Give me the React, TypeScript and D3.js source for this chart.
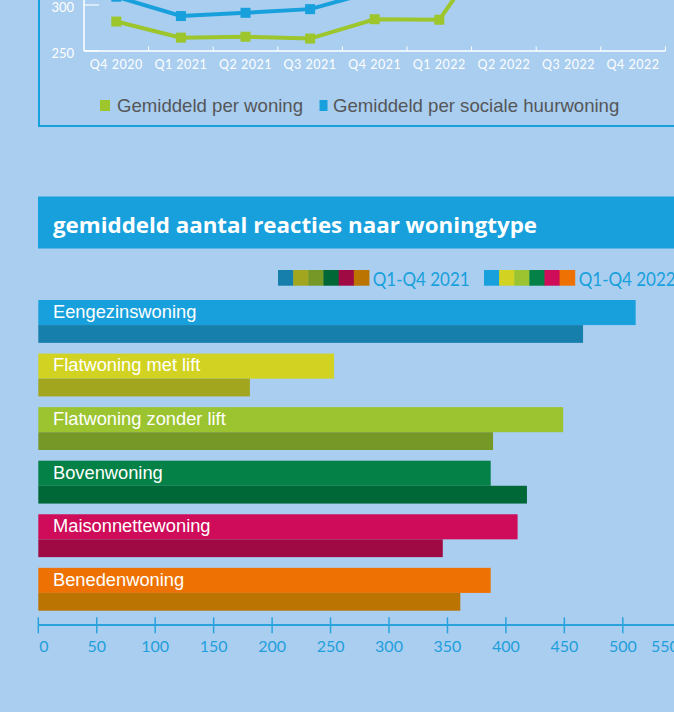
import React from "react";
import * as d3 from "d3";

// ---- Line chart data (top, partly cropped) ----
const quarters = ["Q4 2020", "Q1 2021", "Q2 2021", "Q3 2021", "Q4 2021", "Q1 2022", "Q2 2022", "Q3 2022", "Q4 2022"];
const perWoning = [282, 264.5, 265.5, 263.5, 284.5, 284, 384, 360, 350];
const perSocialeHuurwoning = [309, 288, 291.5, 295.5, 315, 320, 420, 400, 390];
const lineYTicks = [250, 300];
const lineLegend = ["Gemiddeld per woning", "Gemiddeld per sociale huurwoning"];

// ---- Bar chart data ----
const woningtypes = ["Eengezinswoning", "Flatwoning met lift", "Flatwoning zonder lift", "Bovenwoning", "Maisonnettewoning", "Benedenwoning"];
const values2022 = [511, 253, 449, 387, 410, 387];
const values2021 = [466, 181, 389, 418, 346, 361];
const colors2022 = ["#18a0dc", "#d1d221", "#9bc430", "#038146", "#ce0c59", "#ee7203"];
const colors2021 = ["#167fab", "#a1a61e", "#769827", "#006737", "#a00a44", "#bb7402"];
const barTicks = [0, 50, 100, 150, 200, 250, 300, 350, 400, 450, 500, 550];
const barTitle = "gemiddeld aantal reacties naar woningtype";
const periodLabels = ["Q1-Q4 2021", "Q1-Q4 2022"];

const W = 674;
const H = 712;
const BG = "#a9cef0";
const BLUE = "#18a0dc";
const GREEN = "#9dc52c";

export default function App() {
  // line chart scales
  const xq = d3.scaleBand<string>().domain(quarters).range([84, 665.4]);
  const yl = d3.scaleLinear().domain([250, 300]).range([51, 5]);
  const lineGen = d3
    .line<number>()
    .x((_, i) => (xq(quarters[i]) as number) + xq.bandwidth() / 2)
    .y((d) => yl(d));

  // bar chart scales
  const xb = d3.scaleLinear().domain([0, 550]).range([38.3, 38.3 + 550 * 1.169]);
  const yb = d3.scaleBand<string>().domain(woningtypes).range([300, 610.7]).paddingInner(0.2).paddingOuter(0);
  const topH = yb.bandwidth() * 0.585;
  const botH = yb.bandwidth() - topH;

  const sans = "'Liberation Sans', Arial, sans-serif";
  const din = "Lato, 'Open Sans', sans-serif";
  const titleFont = "'Open Sans', 'Noto Sans', sans-serif";

  return (
    <div style={{ position: "absolute", left: 0, top: 0, width: W, height: H, background: BG }}>
      <style>{`body{margin:0;background:${BG};}`}</style>
      <svg width={W} height={H} style={{ display: "block" }}>
        <rect x={0} y={0} width={W} height={H} fill={BG} />

        {/* frame of line chart */}
        <line x1={39} y1={0} x2={39} y2={126} stroke={BLUE} strokeWidth={2} />
        <line x1={38} y1={126} x2={W} y2={126} stroke={BLUE} strokeWidth={2} />

        {/* line chart axes */}
        <line x1={84} y1={-20} x2={84} y2={51} stroke="#ffffff" strokeWidth={1.5} />
        <line x1={84} y1={51} x2={665.4} y2={51} stroke="#ffffff" strokeWidth={1.5} />
        {lineYTicks.map((t) => (
          <g key={t}>
            <line x1={84} y1={yl(t)} x2={99} y2={yl(t)} stroke="#ffffff" strokeOpacity={0.55} strokeWidth={2} />
            <text x={74} y={yl(t) + 7} textAnchor="end" fill="#ffffff" fontFamily={din} fontSize={13}>
              {t}
            </text>
          </g>
        ))}
        {quarters.map((q) => (
          <g key={q}>
            <line
              x1={(xq(q) as number) + xq.bandwidth()}
              x2={(xq(q) as number) + xq.bandwidth()}
              y1={46.5}
              y2={51}
              stroke="#ffffff"
              strokeWidth={1}
            />
            <text
              x={(xq(q) as number) + xq.bandwidth() / 2}
              y={69}
              textAnchor="middle"
              fill="#ffffff"
              fontFamily={din}
              fontSize={12.5}
              letterSpacing={0.5}
            >
              {q}
            </text>
          </g>
        ))}

        {/* lines */}
        <path d={lineGen(perWoning) || ""} fill="none" stroke={GREEN} strokeWidth={4} />
        <path d={lineGen(perSocialeHuurwoning) || ""} fill="none" stroke={BLUE} strokeWidth={4} />
        {perWoning.map((v, i) => (
          <rect
            key={"g" + i}
            x={(xq(quarters[i]) as number) + xq.bandwidth() / 2 - 5}
            y={yl(v) - 5}
            width={10}
            height={10}
            fill={GREEN}
          />
        ))}
        {perSocialeHuurwoning.map((v, i) => (
          <rect
            key={"b" + i}
            x={(xq(quarters[i]) as number) + xq.bandwidth() / 2 - 5}
            y={yl(v) - 5}
            width={10}
            height={10}
            fill={BLUE}
          />
        ))}

        {/* line legend */}
        <rect x={100} y={100} width={10} height={11} fill={GREEN} />
        <text x={117} y={111.7} fill="#555658" fontFamily={sans} fontSize={18.6}>
          {lineLegend[0]}
        </text>
        <rect x={319.5} y={100} width={8} height={11} fill={BLUE} />
        <text x={333} y={111.7} fill="#555658" fontFamily={sans} fontSize={18.6}>
          {lineLegend[1]}
        </text>

        {/* bar chart title banner */}
        <rect x={38} y={196.5} width={W - 38} height={52} fill={BLUE} />
        <text
          x={53}
          y={232.7}
          fill="#ffffff"
          fontFamily={titleFont}
          fontWeight={700}
          fontSize={21}
          textLength={484}
          lengthAdjust="spacingAndGlyphs"
          style={{ fontVariantLigatures: "none" }}
        >
          {barTitle}
        </text>

        {/* period legend */}
        {colors2021.map((c, i) => (
          <rect key={"l21" + i} x={278 + i * 15.17} y={270} width={15.6} height={15.7} fill={c} />
        ))}
        <text x={372.7} y={285.7} fill={BLUE} fontFamily={din} fontSize={18.5} textLength={97} lengthAdjust="spacingAndGlyphs">
          {periodLabels[0]}
        </text>
        {colors2022.map((c, i) => (
          <rect key={"l22" + i} x={484 + i * 15.12} y={270} width={15.6} height={15.7} fill={c} />
        ))}
        <text x={578.7} y={285.7} fill={BLUE} fontFamily={din} fontSize={18.5} textLength={97} lengthAdjust="spacingAndGlyphs">
          {periodLabels[1]}
        </text>

        {/* bars */}
        {woningtypes.map((w, i) => {
          const y0 = yb(w) as number;
          return (
            <g key={w}>
              <rect x={xb(0)} y={y0} width={xb(values2022[i]) - xb(0)} height={topH} fill={colors2022[i]} />
              <rect x={xb(0)} y={y0 + topH} width={xb(values2021[i]) - xb(0)} height={botH} fill={colors2021[i]} />
              <text x={53} y={y0 + 17.9} fill="#ffffff" fontFamily={sans} fontSize={18.3}>
                {w}
              </text>
            </g>
          );
        })}

        {/* bar axis */}
        <line x1={xb(0)} y1={625} x2={W} y2={625} stroke="#2aa3dd" strokeWidth={2} />
        {barTicks.map((t, i) => {
          const last = i === barTicks.length - 1;
          return (
            <g key={t}>
              <line x1={xb(t)} x2={xb(t)} y1={617.3} y2={633.3} stroke="#2aa3dd" strokeWidth={1.5} />
              <text
                x={t === 0 ? xb(t) + 1 : last ? 651 : xb(t)}
                y={652.3}
                textAnchor={t === 0 || last ? "start" : "middle"}
                fill="#1f9fdb"
                fontFamily={din}
                fontSize={16}
              >
                {t}
              </text>
            </g>
          );
        })}
      </svg>
    </div>
  );
}
